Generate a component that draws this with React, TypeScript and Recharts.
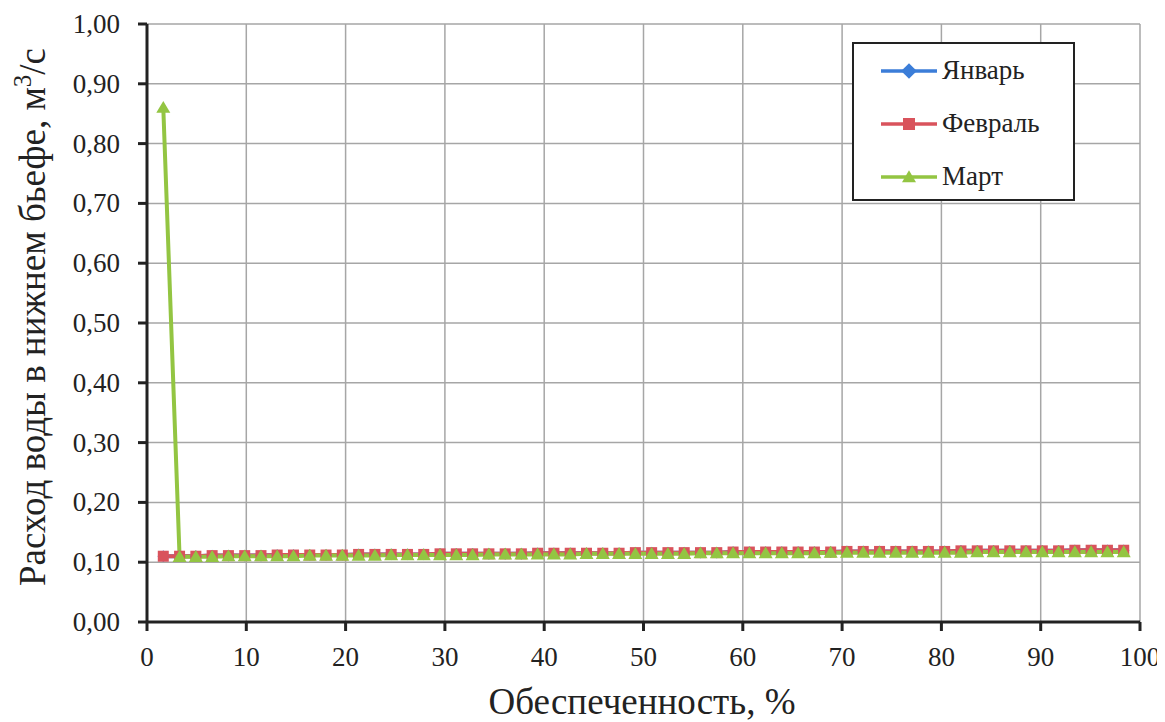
import { LineChart, Line, XAxis, YAxis, CartesianGrid } from 'recharts';

// Обеспеченность, % (plotting positions)
const prob = [
  1.64, 3.28, 4.92, 6.56, 8.2, 9.84, 11.48, 13.11, 14.75, 16.39,
  18.03, 19.67, 21.31, 22.95, 24.59, 26.23, 27.87, 29.51, 31.15, 32.79,
  34.43, 36.07, 37.7, 39.34, 40.98, 42.62, 44.26, 45.9, 47.54, 49.18,
  50.82, 52.46, 54.1, 55.74, 57.38, 59.02, 60.66, 62.3, 63.93, 65.57,
  67.21, 68.85, 70.49, 72.13, 73.77, 75.41, 77.05, 78.69, 80.33, 81.97,
  83.61, 85.25, 86.89, 88.52, 90.16, 91.8, 93.44, 95.08, 96.72, 98.36,
];

const january = [
  0.11, 0.11, 0.11, 0.111, 0.111, 0.111, 0.111, 0.112, 0.112, 0.112,
  0.112, 0.112, 0.113, 0.113, 0.113, 0.113, 0.113, 0.114, 0.114, 0.114,
  0.114, 0.114, 0.114, 0.115, 0.115, 0.115, 0.115, 0.115, 0.115, 0.116,
  0.116, 0.116, 0.116, 0.116, 0.116, 0.117, 0.117, 0.117, 0.117, 0.117,
  0.117, 0.117, 0.118, 0.118, 0.118, 0.118, 0.118, 0.118, 0.118, 0.119,
  0.119, 0.119, 0.119, 0.119, 0.119, 0.119, 0.12, 0.12, 0.12, 0.12,
];

const february = [
  0.11, 0.11, 0.11, 0.111, 0.111, 0.111, 0.111, 0.112, 0.112, 0.112,
  0.112, 0.112, 0.113, 0.113, 0.113, 0.113, 0.113, 0.114, 0.114, 0.114,
  0.114, 0.114, 0.114, 0.115, 0.115, 0.115, 0.115, 0.115, 0.115, 0.116,
  0.116, 0.116, 0.116, 0.116, 0.116, 0.117, 0.117, 0.117, 0.117, 0.117,
  0.117, 0.117, 0.118, 0.118, 0.118, 0.118, 0.118, 0.118, 0.118, 0.119,
  0.119, 0.119, 0.119, 0.119, 0.119, 0.119, 0.12, 0.12, 0.12, 0.12,
];

const march = [
  0.86, 0.109, 0.109, 0.109, 0.11, 0.11, 0.11, 0.11, 0.11, 0.111,
  0.111, 0.111, 0.111, 0.111, 0.112, 0.112, 0.112, 0.112, 0.112, 0.112,
  0.113, 0.113, 0.113, 0.113, 0.113, 0.113, 0.114, 0.114, 0.114, 0.114,
  0.114, 0.114, 0.114, 0.115, 0.115, 0.115, 0.115, 0.115, 0.115, 0.115,
  0.115, 0.116, 0.116, 0.116, 0.116, 0.116, 0.116, 0.116, 0.116, 0.116,
  0.117, 0.117, 0.117, 0.117, 0.117, 0.117, 0.117, 0.117, 0.117, 0.117,
];

const xTicks = [0, 10, 20, 30, 40, 50, 60, 70, 80, 90, 100];
const yTicks = [0, 0.1, 0.2, 0.3, 0.4, 0.5, 0.6, 0.7, 0.8, 0.9, 1.0];

const BLUE = '#3b7dd8';
const RED = '#d9535c';
const GREEN = '#93c542';
const INK = '#222';
const FONT = "'Liberation Serif', serif";

const data = prob.map((p, i) => ({
  p,
  jan: january[i],
  feb: february[i],
  mar: march[i],
}));

const series = [
  { key: 'jan', name: 'Январь', color: BLUE, shape: 'diamond' },
  { key: 'feb', name: 'Февраль', color: RED, shape: 'square' },
  { key: 'mar', name: 'Март', color: GREEN, shape: 'triangle' },
];

function Marker({ cx, cy, shape, color, size }: any) {
  if (cx == null || cy == null) return null;
  const s = size;
  if (shape === 'square') {
    return <rect x={cx - s / 2} y={cy - s / 2} width={s} height={s} fill={color} />;
  }
  if (shape === 'triangle') {
    const h = s * 0.95;
    return (
      <polygon
        points={`${cx},${cy - h * 0.6} ${cx + s / 2 + 1},${cy + h * 0.45} ${cx - s / 2 - 1},${cy + h * 0.45}`}
        fill={color}
      />
    );
  }
  const d = s * 0.65;
  return (
    <polygon points={`${cx},${cy - d} ${cx + d},${cy} ${cx},${cy + d} ${cx - d},${cy}`} fill={color} />
  );
}

const makeDot = (shape: string, color: string, size: number) => (props: any) => (
  <Marker key={`${shape}-${props.index}`} cx={props.cx} cy={props.cy} shape={shape} color={color} size={size} />
);

const fmt = (v: number) => v.toFixed(2).replace('.', ',');

const XTick = ({ x, y, payload }: any) => (
  <text x={x} y={y} dy={20} textAnchor="middle" style={{ fontFamily: FONT, fontSize: 27 }} fill={INK}>
    {payload.value}
  </text>
);

const YTick = ({ x, y, payload }: any) => (
  <text x={x} y={y} dy={9} textAnchor="end" style={{ fontFamily: FONT, fontSize: 27 }} fill={INK}>
    {fmt(payload.value)}
  </text>
);

function Titles() {
  return (
    <svg
      width={1157}
      height={714}
      style={{ position: 'absolute', left: 0, top: 0, pointerEvents: 'none' }}
    >
      <text
        x={37}
        y={309}
        transform="rotate(-90, 37, 309)"
        textAnchor="middle"
        style={{ fontFamily: FONT, fontSize: 37 }}
        fill={INK}
      >
        Расход воды в нижнем бьефе, м
        <tspan dy={-14} style={{ fontSize: 25 }}>3</tspan>
        <tspan dy={14}>/с</tspan>
      </text>
      <text x={634} y={706} textAnchor="middle" style={{ fontFamily: FONT, fontSize: 37 }} fill={INK}>
        Обеспеченность, %
      </text>
    </svg>
  );
}

function LegendBox() {
  return (
    <div
      style={{
        position: 'absolute',
        left: 844,
        top: 34,
        width: 219,
        height: 155,
        border: '2px solid #222',
        background: '#fff',
      }}
    >
      {series.map((s) => (
        <div key={s.key} style={{ display: 'flex', alignItems: 'center', height: 53 }}>
          <svg width={56} height={20} style={{ marginLeft: 27 }}>
            <line x1={0} y1={10} x2={56} y2={10} stroke={s.color} strokeWidth={3.5} />
            <Marker cx={28} cy={10} shape={s.shape} color={s.color} size={12} />
          </svg>
          <span style={{ fontFamily: FONT, fontSize: 27, color: INK, marginLeft: 5 }}>{s.name}</span>
        </div>
      ))}
    </div>
  );
}

export default function App() {
  return (
    <div style={{ position: 'relative', width: 1157, height: 714, background: '#fff' }}>
      <LineChart width={1157} height={714} data={data} margin={{ top: 16, right: 25, left: 0, bottom: 0 }}>
        <CartesianGrid stroke="#a6a6a6" strokeWidth={1.5} />
        <XAxis
          type="number"
          dataKey="p"
          domain={[0, 100]}
          ticks={xTicks}
          height={100}
          tickSize={9}
          tickMargin={15}
          axisLine={{ stroke: INK, strokeWidth: 3 }}
          tickLine={{ stroke: INK, strokeWidth: 3 }}
          tick={<XTick />}
        />
        <YAxis
          type="number"
          domain={[0, 1]}
          ticks={yTicks}
          width={139}
          tickSize={9}
          tickMargin={18}
          axisLine={{ stroke: INK, strokeWidth: 3 }}
          tickLine={{ stroke: INK, strokeWidth: 3 }}
          tick={<YTick />}
        />
        {series.map((s) => (
          <Line
            key={s.key}
            type="linear"
            dataKey={s.key}
            name={s.name}
            stroke={s.color}
            strokeWidth={4}
            dot={makeDot(s.shape, s.color, s.shape === 'diamond' ? 9 : s.shape === 'square' ? 11 : 12)}
            activeDot={false}
            isAnimationActive={false}
          />
        ))}
      </LineChart>
      <Titles />
      <LegendBox />
    </div>
  );
}
